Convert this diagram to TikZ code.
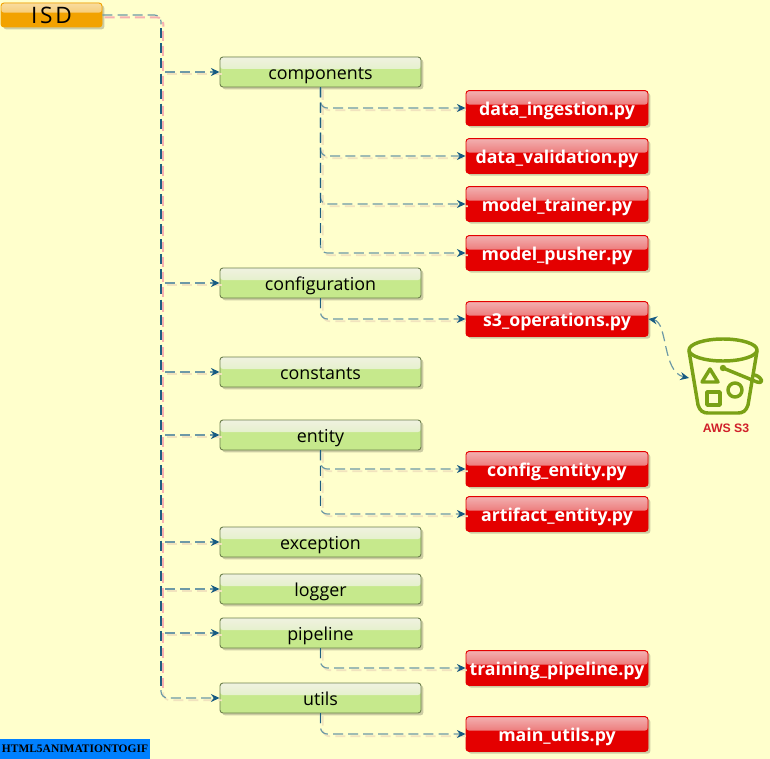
\documentclass[tikz,border=0pt]{standalone}
\usepackage{fontspec}
\setmainfont{Open Sans}
\newfontfamily\markfont{Liberation Serif}
\newfontfamily\awsfont{Liberation Sans}
\newfontfamily\rootfont[LetterSpace=12]{Open Sans}
\usetikzlibrary{arrows.meta,shadows,calc}
\newcommand{\lowertext}[1]{\raisebox{-2.8pt}[6pt][0pt]{#1}}
\definecolor{bgc}{HTML}{FFFFCC}
\definecolor{linec}{HTML}{6D99A6}
\definecolor{darkc}{HTML}{1F5F80}
\definecolor{tipc}{HTML}{175B82}
\definecolor{pinkc}{HTML}{F6B0B0}
\definecolor{softc}{HTML}{F1E3BE}
\definecolor{greenc}{HTML}{C6E98C}
\definecolor{greent}{HTML}{F0F2E0}
\definecolor{greenm}{HTML}{D6EEB0}
\definecolor{redc}{HTML}{E40000}
\definecolor{redt}{HTML}{F2B0B0}
\definecolor{redm}{HTML}{E63030}
\definecolor{orangec}{HTML}{F2A200}
\definecolor{oranget}{HTML}{F8DCA0}
\definecolor{orangem}{HTML}{F5B840}
\definecolor{bucketc}{HTML}{7AA116}
\definecolor{awsc}{HTML}{D0202A}
\definecolor{markc}{HTML}{0080FF}
\tikzset{
  x=0.75pt,y=-0.75pt,
  glossbox/.style n args={4}{rectangle,rounded corners=2.2pt,draw=#1,line width=0.7pt,fill=#2,inner sep=0pt,
    drop shadow={shadow xshift=1.8pt,shadow yshift=-1.8pt,fill=black,opacity=0.2},
    path picture={\shade[top color=#3,bottom color=#4]
      (path picture bounding box.north west) rectangle
      ($(path picture bounding box.north east)!0.4!(path picture bounding box.south east)$);}},
  rootbox/.style={glossbox={orangec}{orangec}{oranget}{orangem},minimum width=75.75pt,minimum height=18pt,font=\rootfont\fontsize{17}{19}\selectfont,text=black},
  folderbox/.style={glossbox={black!45!greenc}{greenc}{greent}{greenm},minimum width=150.75pt,minimum height=22.5pt,font=\fontsize{13.4}{15}\selectfont,text=black},
  filebox/.style={glossbox={redc}{redc}{redt}{redm},minimum width=136.5pt,minimum height=26pt,font=\fontsize{13.3}{15}\selectfont\bfseries,text=white},
  conn/.style={draw=linec,line width=0.9pt,dash pattern=on 7.5pt off 3.8pt,rounded corners=5pt},
  darkconn/.style={draw=darkc,line width=0.9pt,dash pattern=on 7.5pt off 3.8pt},
  tipped/.style={-{Stealth[length=6.5pt,width=6pt,color=tipc]}},
  bothtips/.style={{Stealth[length=6.5pt,width=6pt,color=tipc]}-{Stealth[length=6.5pt,width=6pt,color=tipc]}},
  trunkshade/.style={draw=pinkc,line width=1.5pt,dash pattern=on 7.5pt off 3.8pt,rounded corners=5pt},
  softshade/.style={draw=softc,line width=1.2pt,dash pattern=on 7.5pt off 3.8pt,rounded corners=5pt},
  bucketline/.style={draw=bucketc,line width=2.6pt,line join=round,line cap=round},
  watermark/.style={fill=markc,inner sep=0pt,minimum width=112.5pt,minimum height=15pt,font=\markfont\bfseries\fontsize{8.6}{9}\selectfont,text=black},
  awslabel/.style={font=\awsfont\bfseries\fontsize{9.2}{10}\selectfont,text=awsc,inner sep=0pt},
  off/.style={shift={(1.7pt,-1.7pt)}}
}
\begin{document}
\begin{tikzpicture}
\fill[bgc] (0,0) rectangle (770,759);
\useasboundingbox (0,0) rectangle (770,759);
\coordinate (tr) at (161,15);
\coordinate (bk) at (689,378);
\node[rootbox] (isd) at (51.5,15) {ISD};
\node[folderbox] (comp) at (320.5,72) {\lowertext{components}};
\node[folderbox] (conf) at (320.5,283) {\lowertext{configuration}};
\node[folderbox] (const) at (320.5,372) {\lowertext{constants}};
\node[folderbox] (enti) at (320.5,435) {\lowertext{entity}};
\node[folderbox] (exce) at (320.5,542) {\lowertext{exception}};
\node[folderbox] (logg) at (320.5,589) {\lowertext{logger}};
\node[folderbox] (pipe) at (320.5,633) {\lowertext{pipeline}};
\node[folderbox] (util) at (320.5,698) {\lowertext{utils}};
\node[filebox] (ing) at (557,108) {\lowertext{data\_ingestion.py}};
\node[filebox] (val) at (557,156) {\lowertext{data\_validation.py}};
\node[filebox] (tra) at (557,204) {\lowertext{model\_trainer.py}};
\node[filebox] (pus) at (557,253) {\lowertext{model\_pusher.py}};
\node[filebox] (sop) at (557,319) {\lowertext{s3\_operations.py}};
\node[filebox] (cen) at (557,469) {\lowertext{config\_entity.py}};
\node[filebox] (aen) at (557,514) {\lowertext{artifact\_entity.py}};
\node[filebox] (tpi) at (557,668) {\lowertext{training\_pipeline.py}};
\node[filebox] (mut) at (557,734) {\lowertext{main\_utils.py}};
% shadows of connectors
\draw[trunkshade] ([off]isd.east) -- ([off]tr) -- ([off,yshift=-7pt]tr);
\draw[trunkshade] ([off,yshift=-10pt]tr) -- ([off,yshift=9pt]tr |- util.west);
\foreach \a/\b in {comp/ing,comp/val,comp/tra,comp/pus,conf/sop,enti/cen,enti/aen,pipe/tpi,util/mut}
  \draw[softshade] ([off]\a.south) |- ([off]\b.west);
\foreach \b in {comp,conf,const,enti,exce,logg,pipe}
  \draw[softshade] ([off,xshift=3pt]tr |- \b.west) -- ([off]\b.west);
\draw[softshade] ([off,yshift=6pt]tr |- util.west) -- ([off]tr |- util.west) -- ([off]util.west);
% trunk
\draw[conn] (isd.east) -- (tr) -- ([yshift=-7pt]tr);
\draw[darkconn] ([yshift=-10pt]tr) -- ([yshift=9pt]tr |- util.west);
\draw[conn,tipped] ([yshift=6pt]tr |- util.west) -- (tr |- util.west) -- (util.west);
\foreach \b in {comp,conf,const,enti,exce,logg,pipe}
  \draw[conn,tipped] ([xshift=3pt]tr |- \b.west) -- (\b.west);
% branches
\foreach \a/\b in {comp/ing,comp/val,comp/tra,comp/pus,conf/sop,enti/cen,enti/aen,pipe/tpi,util/mut}
  \draw[conn,tipped] (\a.south) |- (\b.west);
\foreach \a/\b in {comp/pus,conf/sop,enti/aen,pipe/tpi,util/mut}
  \draw[darkconn] (\a.south) -- ([yshift=6pt]\a.south |- \b.west);
\draw[conn,bothtips] (sop.east) .. controls (668,322) and (662,372) .. (bk);
% S3 bucket
\draw[bucketline] (723,350) ellipse [x radius=34,y radius=11];
\draw[bucketline] (689,351) -- (698,405) .. controls (700,411) and (703,413) .. (708,413) -- (738,413) .. controls (743,413) and (746,411) .. (748,405) -- (757,351);
\draw[bucketline] (710,369) -- (702,382) -- (718,382) -- cycle;
\draw[bucketline] (707,392) rectangle (720,405);
\draw[bucketline] (735,390) circle [radius=7];
\fill[bucketc] (723,368) circle [radius=3.2];
\draw[bucketline] (723,368) -- (757,382) .. controls (764,384) and (763,378) .. (755,375);
\node[awslabel] (aws) at (726,428) {AWS S3};
\node[watermark] (wm) at (75,749) {HTML5ANIMATIONTOGIF};
\end{tikzpicture}
\end{document}
